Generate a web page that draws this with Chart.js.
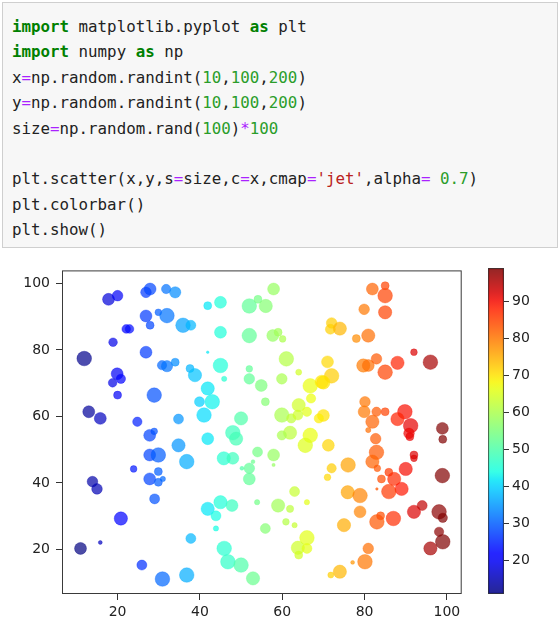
<!DOCTYPE html>
<html>
<head>
<meta charset="utf-8">
<script src="https://cdn.jsdelivr.net/npm/chart.js@4"></script>
<style>
  html, body { margin: 0; padding: 0; background: #fff; }
  #page { position: relative; width: 560px; height: 629px; overflow: hidden; }
  #code {
    position: absolute; left: 2px; top: 2px; width: 535px; height: 226px;
    background: #f7f7f7; border: 1px solid #cfcfcf;
    padding: 11px 10px 7px 9px; margin: 0;
    font-family: "DejaVu Sans Mono", "Liberation Mono", monospace;
    font-size: 15.8px; line-height: 25.4px; color: #222; white-space: pre;
  }
  .kw { color: #008000; font-weight: bold; }
  .nu { color: #2a9d2a; }
  .op { color: #aa22ff; }
  .st { color: #ba2121; }
  #scatter { position: absolute; left: 0; top: 256px; }
  #cbar { position: absolute; left: 470px; top: 256px; }
</style>
</head>
<body>
<div id="page">
<pre id="code"><span class="kw">import</span> matplotlib.pyplot <span class="kw">as</span> plt
<span class="kw">import</span> numpy <span class="kw">as</span> np
x<span class="op">=</span>np.random.randint(<span class="nu">10</span>,<span class="nu">100</span>,<span class="nu">200</span>)
y<span class="op">=</span>np.random.randint(<span class="nu">10</span>,<span class="nu">100</span>,<span class="nu">200</span>)
size<span class="op">=</span>np.random.rand(<span class="nu">100</span>)<span class="op">*</span><span class="nu">100</span>

plt.scatter(x,y,s<span class="op">=</span>size,c<span class="op">=</span>x,cmap<span class="op">=</span><span class="st">'jet'</span>,alpha<span class="op">=</span> <span class="nu">0.7</span>)
plt.colorbar()
plt.show()</pre>
<canvas id="scatter" width="470" height="373"></canvas>
<canvas id="cbar" width="90" height="373"></canvas>
</div>
<script>
// values
const xs = [17.8, 20, 26.9, 27.9, 31.8, 34, 26.9, 29.9, 32, 27.9, 22.1, 22.9, 18.9, 35.9, 37.8, 11.9, 26.9, 30.8, 32, 34,
  37.6, 38.8, 19.9, 20.8, 18.8, 20, 28.9, 13, 15.8, 24.8, 34.8, 27.8, 28.9, 34.8, 36.8, 27.8, 29.9, 23.9, 29.9, 27.8,
  29.9, 31, 13.9, 15, 29, 20.8, 11, 15.8, 25.9, 30.9, 36.8, 37.8,
  57.9, 41.9, 45, 52, 54.1, 56, 45, 52, 57.7, 59, 60.1, 41.9, 45, 45.9, 52, 52, 54.9, 61, 59.9, 64, 55.9, 41.9, 39.9, 43,
  41, 50, 48, 48.8, 66.8, 69.6, 67, 64, 66, 59.9, 62.2, 63.8, 70, 61.9, 66.8,
  81.9, 85, 85, 79.9, 85, 72, 71.7, 74, 78, 80.9, 92, 96, 79.7, 80.9, 82.9, 85, 88, 71, 72, 70, 68.9,
  80.1, 79.9, 82.9, 85, 81.9, 89.8, 88, 91.2, 98.9, 80.9,
  82.7, 82.9, 81.9, 83.1, 76, 72, 71, 71.2, 90.8, 91, 99, 92, 92, 90, 85.9, 87.2, 84.1, 89, 85.9, 83, 98.9, 75.9, 78.9,
  78.9, 83, 83.9, 87, 92, 94, 98.1, 99, 98.1, 99, 96, 75, 80.9, 80.1, 77.1, 74, 71.8,
  41.9, 45.8, 48, 54, 57.9, 57.9, 52.9, 52, 50.2, 52, 59.9, 65.6, 63, 59, 61.9, 66, 53.9, 60.9, 63, 55.9, 45, 47.8,
  41.9, 43.9, 43.9, 66, 63.8, 66, 64, 45.9, 46.8, 50, 52.9];
const ys = [95.2, 96.3, 97.3, 98.3, 98.3, 97.3, 90.2, 91.3, 90.3, 87.4, 86.3, 86.3, 82.3, 87.4, 87.4, 77.4, 79.3, 75.4, 75.1, 76.3,
  74.4, 72.4, 72.8, 71.3, 70.1, 66.4, 66.4, 61.4, 59.4, 58.4, 59.2, 54.3, 55.5, 51.3, 46.4, 48.4, 48.4, 44.2, 43.4, 41.2,
  40.2, 41.2, 40.4, 38.2, 35.2, 29.3, 20.3, 22.1, 15.3, 11.1, 12.3, 23.3,
  98.3, 93.3, 94.3, 93.2, 95.2, 93.2, 85.3, 84.3, 84.3, 85.3, 83.3, 79.3, 75.3, 71.3, 74.3, 71.3, 69.3, 77.3, 71.3, 73.3, 64.4, 68.4, 64.4, 64.4,
  60.4, 59.4, 55.1, 53.3, 69.2, 70.4, 65.4, 63.4, 61.4, 60.4, 59.4, 60.4, 60.3, 55.1, 54.3,
  98.3, 99.3, 96.3, 92.2, 91.3, 88.1, 86.2, 86.4, 83.4, 84.3, 79.3, 76.3, 75.3, 75.3, 77.3, 73.3, 76.1, 76.4, 72.2, 70.2, 59.4,
  64.4, 61.4, 61.4, 61.4, 58.4, 61.4, 59.2, 57.2, 56.4, 55.9,
  53.3, 49.2, 46.4, 44.4, 45.4, 44.4, 41.7, 51.3, 54.9, 53.9, 53.1, 48.4, 47.4, 44.2, 43.2, 41.2, 41.2, 38.2, 37.4, 38.2, 42.2, 37.2, 36.2,
  31.3, 28.3, 30.1, 29.3, 31.3, 33.2, 31.3, 29.5, 25.3, 22.3, 20.3, 27.3, 20.3, 16.3, 16.1, 13.3, 12.3,
  53.3, 47.4, 47.4, 49.3, 48.4, 45.4, 46.4, 44.4, 44.4, 41.2, 54.3, 51.3, 37.4, 33.2, 32.2, 34.2, 34.2, 28.3, 27.3, 26.3, 34.2, 33.2,
  32.2, 30.1, 26.3, 23.5, 20.5, 20.3, 18.3, 20.3, 16.3, 15.3, 11.3];
const sizes = [67, 53, 53, 67, 41, 60, 67, 21, 100, 30, 35, 35, 35, 100, 47, 100, 67, 41, 60, 30,
  30, 83, 67, 41, 35, 30, 100, 67, 67, 41, 47, 67, 21, 83, 100, 67, 100, 21, 30, 67,
  30, 13, 53, 53, 47, 83, 67, 7, 47, 100, 100, 47,
  67, 30, 67, 100, 30, 83, 67, 100, 67, 30, 21, 3, 100, 13, 21, 53, 67, 100, 53, 17, 30, 83, 47, 100,
  100, 83, 100, 83, 100, 83, 41, 83, 41, 100, 41, 47, 67, 83, 100,
  67, 30, 100, 53, 83, 53, 47, 83, 30, 83, 21, 100, 83, 67, 53, 100, 83, 67, 100, 83, 41,
  53, 67, 41, 30, 83, 100, 83, 100, 67, 13,
  53, 100, 83, 21, 100, 41, 21, 67, 53, 30, 30, 30, 21, 83, 30, 83, 30, 83, 100, 3, 100, 83, 100,
  67, 100, 30, 100, 83, 47, 100, 41, 41, 100, 83, 83, 53, 100, 7, 83, 17,
  67, 83, 67, 47, 67, 5, 7, 53, 7, 67, 41, 100, 47, 83, 25, 13, 13, 21, 13, 47, 83, 67,
  83, 47, 13, 100, 83, 47, 30, 100, 100, 100, 83];
const xTicks = [20, 40, 60, 80, 100];
const yTicks = [20, 40, 60, 80, 100];
const cbTicks = [20, 30, 40, 50, 60, 70, 80, 90];

const cMin = Math.min(...xs);
const cMax = Math.max(...xs);

// matplotlib 'jet' segment data
const jetR = [[0, 0], [0.35, 0], [0.66, 1], [0.89, 1], [1, 0.5]];
const jetG = [[0, 0], [0.125, 0], [0.375, 1], [0.64, 1], [0.91, 0], [1, 0]];
const jetB = [[0, 0.5], [0.11, 1], [0.34, 1], [0.65, 0], [1, 0]];

function seg(pts, t) {
  for (let i = 1; i < pts.length; i++) {
    if (t <= pts[i][0]) {
      const [x0, y0] = pts[i - 1];
      const [x1, y1] = pts[i];
      return y0 + (y1 - y0) * (t - x0) / (x1 - x0);
    }
  }
  return pts[pts.length - 1][1];
}

function jet(t, a) {
  t = Math.max(0, Math.min(1, t));
  const r = Math.round(seg(jetR, t) * 255);
  const g = Math.round(seg(jetG, t) * 255);
  const b = Math.round(seg(jetB, t) * 255);
  return `rgba(${r},${g},${b},${a})`;
}

const tickFont = { family: 'DejaVu Sans', size: 14 };
const inkColor = '#333';

const framePlugin = {
  id: 'frame',
  afterDraw(chart) {
    const a = chart.chartArea;
    const c = chart.ctx;
    c.save();
    c.strokeStyle = '#3a3a3a';
    c.lineWidth = 1;
    c.strokeRect(a.left + 0.5, a.top + 0.5, a.right - a.left - 1, a.bottom - a.top - 1);
    c.restore();
  }
};

new Chart(document.getElementById('scatter'), {
  type: 'scatter',
  data: {
    datasets: [{
      data: xs.map((x, i) => ({ x: x, y: ys[i] })),
      pointRadius: (ctx) => Math.sqrt(sizes[ctx.dataIndex]) * 0.73,
      pointBackgroundColor: (ctx) => jet((xs[ctx.dataIndex] - cMin) / (cMax - cMin), 0.7),
      pointBorderColor: (ctx) => jet((xs[ctx.dataIndex] - cMin) / (cMax - cMin), 0.35),
      pointBorderWidth: 1
    }]
  },
  options: {
    responsive: false,
    animation: false,
    events: [],
    layout: { padding: { top: 12, right: 8, left: 0, bottom: 0 } },
    plugins: { legend: { display: false }, tooltip: { enabled: false } },
    scales: {
      x: {
        type: 'linear', min: 6.5, max: 103.6,
        afterBuildTicks: (scale) => { scale.ticks = xTicks.map(v => ({ value: v })); },
        afterFit: (scale) => { scale.height = 35; },
        grid: { drawOnChartArea: false, drawTicks: true, tickLength: 6, color: inkColor },
        border: { display: false },
        ticks: { font: tickFont, color: '#222', padding: 4, maxRotation: 0 }
      },
      y: {
        type: 'linear', min: 6.6, max: 103.9,
        afterBuildTicks: (scale) => { scale.ticks = yTicks.map(v => ({ value: v })); },
        afterFit: (scale) => { scale.width = 62; },
        grid: { drawOnChartArea: false, drawTicks: true, tickLength: 6, color: inkColor },
        border: { display: false },
        ticks: { font: tickFont, color: '#222', padding: 6 }
      }
    }
  },
  plugins: [framePlugin]
});

new Chart(document.getElementById('cbar'), {
  type: 'bar',
  data: {
    labels: [''],
    datasets: [{
      data: [[cMin, cMax]],
      backgroundColor: (ctx) => {
        const area = ctx.chart.chartArea;
        if (!area) return 'rgba(0,0,0,0)';
        const g = ctx.chart.ctx.createLinearGradient(0, area.bottom, 0, area.top);
        for (let i = 0; i <= 40; i++) g.addColorStop(i / 40, jet(i / 40, 0.85));
        return g;
      },
      borderColor: '#3a3a3a',
      borderWidth: 1,
      borderSkipped: false,
      categoryPercentage: 1,
      barPercentage: 1
    }]
  },
  options: {
    responsive: false,
    animation: false,
    events: [],
    layout: { padding: { top: 12, left: 18, bottom: 35, right: 0 } },
    plugins: { legend: { display: false }, tooltip: { enabled: false } },
    scales: {
      x: { display: false },
      y: {
        position: 'right', min: cMin, max: cMax,
        afterBuildTicks: (scale) => { scale.ticks = cbTicks.map(v => ({ value: v })); },
        afterFit: (scale) => { scale.width = 56; },
        grid: { drawOnChartArea: false, drawTicks: true, tickLength: 5, color: inkColor },
        border: { display: false },
        ticks: { font: tickFont, color: '#222', padding: 3 }
      }
    }
  }
});
</script>
</body>
</html>
